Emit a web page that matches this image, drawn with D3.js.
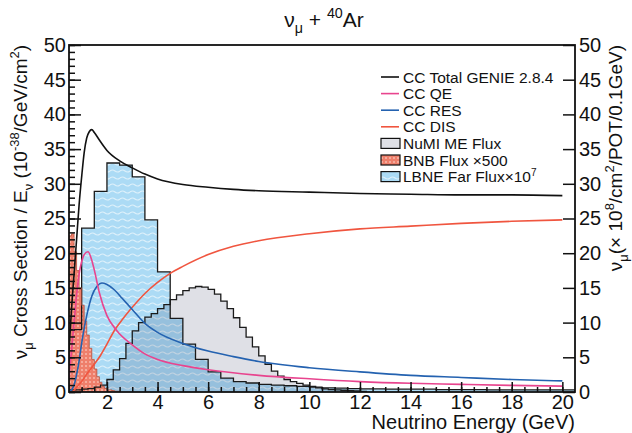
<!DOCTYPE html>
<meta charset="utf-8">
<html>
<head>
<script src="https://d3js.org/d3.v7.min.js"></script>
<style>
  body { margin: 0; background: #fff; }
  text { font-family: "Liberation Sans", Arial, sans-serif; fill: #111; }
</style>
</head>
<body>
<div id="chart"></div>
<script>
// cross sections / E (10^-38 cm^2/GeV)
var totE = [0.5, 0.6, 0.7, 0.8, 0.9, 1.0, 1.1, 1.2, 1.3, 1.4, 1.5, 1.7, 2.0, 2.5, 3.0, 3.5, 4.0, 5.0, 6.0, 7.0, 8.0, 10, 12, 14, 16, 18, 20];
var totV = [6, 12, 17, 22, 27, 31, 34.5, 36.6, 37.5, 37.8, 37.4, 36.3, 34.8, 33.3, 32.3, 31.4, 30.7, 29.9, 29.5, 29.2, 29.0, 28.8, 28.6, 28.5, 28.4, 28.4, 28.3];

var qeE = [0.5, 0.6, 0.7, 0.8, 0.9, 1.0, 1.1, 1.25, 1.4, 1.5, 1.7, 2.0, 2.4, 3.0, 3.5, 4.0, 5.0, 6.0, 8.0, 10, 12, 14, 16, 18, 20];
var qeV = [2, 6, 10, 14, 17, 18.8, 19.8, 20.2, 19.0, 17.6, 14.3, 11.0, 8.8, 6.8, 5.5, 4.7, 3.8, 3.2, 2.4, 1.9, 1.5, 1.25, 1.1, 0.95, 0.85];

var resE = [0.5, 0.6, 0.7, 0.8, 0.9, 1.0, 1.1, 1.2, 1.4, 1.6, 1.8, 2.0, 2.3, 2.6, 3.0, 3.5, 4.0, 5.0, 6.0, 7.0, 8.0, 10, 12, 14, 16, 18, 20];
var resV = [0, 0.3, 1, 2.5, 4.5, 7, 9.2, 11, 13.8, 15.2, 15.7, 15.5, 14.7, 13.5, 11.9, 9.9, 8.6, 7.0, 5.9, 5.1, 4.4, 3.5, 2.9, 2.4, 2.1, 1.8, 1.6];

var disE = [0.65, 0.8, 1.0, 1.2, 1.5, 1.75, 2.0, 2.3, 2.6, 3.0, 3.5, 4.0, 4.5, 5.0, 6.0, 7.0, 8.0, 10, 12, 14, 16, 18, 20];
var disV = [0, 0.7, 1.5, 2.6, 4.0, 5.3, 6.9, 8.9, 10.4, 12.2, 14.2, 15.8, 17.1, 18.1, 19.8, 21.0, 21.8, 22.8, 23.5, 23.9, 24.3, 24.6, 24.8];

// fluxes (right axis), histogram bins
var numiStart = 0.5, numiWidth = 0.25;
var numiV = [0.3, 0.3, 0.4, 0.5, 0.7, 1.0, 1.8, 3.2, 4.8, 7.0, 8.8, 10.0, 10.8, 11.3, 12.0, 12.6, 13.3, 14.0, 14.6, 15.0, 15.2, 15.1, 14.8, 14.1, 13.1, 12.0, 10.7, 9.3, 7.9, 6.5, 5.2, 4.0, 3.0, 2.3, 1.8, 1.5, 1.25, 1.0, 0.8, 0.6, 0.45, 0.35, 0.3, 0.25, 0.2, 0.15, 0.1];

var bnbStart = 0.5, bnbWidth = 0.1;
var bnbV = [22.5, 22.8, 20.2, 17.5, 15.0, 12.5, 10.2, 8.2, 6.3, 4.7, 3.3, 2.2, 1.4, 0.8, 0.5, 0.3, 0.3, 0.2, 0.1, 0.1];

var lbneStart = 0.5, lbneWidth = 0.5;
var lbneV = [9.0, 23.6, 28.9, 33.0, 32.7, 31.0, 24.8, 17.3, 10.6, 6.9, 4.7, 2.9, 2.0, 1.5, 1.3, 1.1, 1.0, 0.9, 0.8, 0.7, 0.6, 0.55, 0.5, 0.45, 0.45, 0.4, 0.4, 0.4, 0.4, 0.35, 0.35, 0.35, 0.35, 0.3, 0.3, 0.3, 0.3, 0.3, 0.3, 0.3];

var yTicks = [0, 5, 10, 15, 20, 25, 30, 35, 40, 45, 50];
var xTicks = [2, 4, 6, 8, 10, 12, 14, 16, 18, 20];

var legendLines = [
  { label: "CC Total GENIE 2.8.4", color: "#111111" },
  { label: "CC QE", color: "#e8448e" },
  { label: "CC RES", color: "#2462b0" },
  { label: "CC DIS", color: "#f0553f" }
];
var legendBoxes = [
  { label: "NuMI ME Flux", fill: "#dfe0e6" },
  { label: "BNB Flux \u00d7500", fill: "url(#bnbPat)" },
  { label: "LBNE Far Flux\u00d710", sup: "7", fill: "url(#lbnePat)" }
];

var width = 632, height = 433;
var margin = { top: 45, right: 57, bottom: 41, left: 69 };

var svg = d3.select("#chart").append("svg")
  .attr("width", width)
  .attr("height", height);

var defs = svg.append("defs");
var pb = defs.append("pattern").attr("id", "bnbPat").attr("patternUnits", "userSpaceOnUse")
  .attr("width", 4).attr("height", 4);
pb.append("rect").attr("width", 4).attr("height", 4).attr("fill", "#ee7f6b");
pb.append("rect").attr("x", 1).attr("y", 1).attr("width", 2).attr("height", 2).attr("fill", "#f5ab9c");

var pl = defs.append("pattern").attr("id", "lbnePat").attr("patternUnits", "userSpaceOnUse")
  .attr("width", 10).attr("height", 7);
pl.append("rect").attr("width", 10).attr("height", 7).attr("fill", "#acdbf5");
pl.append("path").attr("d", "M0,3 Q2.5,1 5,3 T10,3").attr("fill", "none")
  .attr("stroke", "#dff1fb").attr("stroke-width", 1.2);

defs.append("clipPath").attr("id", "clip").append("rect")
  .attr("x", margin.left).attr("y", margin.top)
  .attr("width", width - margin.left - margin.right)
  .attr("height", height - margin.top - margin.bottom);

var x = d3.scaleLinear().domain([0.5, 20.5]).range([margin.left, width - margin.right]);
var y = d3.scaleLinear().domain([0, 50]).range([height - margin.bottom, margin.top]);

function histPoints(start, w, vals) {
  var pts = [[start, 0]];
  vals.forEach(function (v, i) {
    pts.push([start + i * w, v]);
    pts.push([start + (i + 1) * w, v]);
  });
  pts.push([start + vals.length * w, 0]);
  return pts;
}
var straight = d3.line().x(function (d) { return x(d[0]); }).y(function (d) { return y(d[1]); });

var plot = svg.append("g").attr("clip-path", "url(#clip)");

var numiPts = histPoints(numiStart, numiWidth, numiV);
var lbnePts = histPoints(lbneStart, lbneWidth, lbneV);
var bnbPts = histPoints(bnbStart, bnbWidth, bnbV);

plot.append("path").attr("d", straight(numiPts) + "Z").attr("fill", "#dfe0e6");
plot.append("path").attr("d", straight(lbnePts) + "Z").attr("fill", "url(#lbnePat)")
  .style("mix-blend-mode", "multiply");
plot.append("path").attr("d", straight(bnbPts) + "Z").attr("fill", "url(#bnbPat)");

[numiPts, lbnePts].forEach(function (p) {
  plot.append("path").attr("d", straight(p)).attr("fill", "none")
    .attr("stroke", "#1a1a1a").attr("stroke-width", 1.3);
});
plot.append("path").attr("d", straight(bnbPts)).attr("fill", "none")
  .attr("stroke", "#b8503c").attr("stroke-width", 0.8);

var smooth = d3.line().curve(d3.curveMonotoneX)
  .x(function (d) { return x(d[0]); }).y(function (d) { return y(d[1]); });

[[disE, disV, legendLines[3].color], [resE, resV, legendLines[2].color],
 [qeE, qeV, legendLines[1].color], [totE, totV, legendLines[0].color]].forEach(function (c) {
  plot.append("path").attr("d", smooth(d3.zip(c[0], c[1])))
    .attr("fill", "none").attr("stroke", c[2]).attr("stroke-width", 1.6);
});

// axes
var x0 = margin.left, x1 = width - margin.right, yb = height - margin.bottom, yt = margin.top;

var left = svg.append("g").attr("transform", "translate(" + x0 + ",0)");
left.call(d3.axisLeft(y).tickValues(d3.range(0, 51, 1)).tickSize(-6).tickFormat(""))
  .call(function (g) { g.select(".domain").remove(); });
left.append("g").call(d3.axisLeft(y).tickValues(yTicks).tickSize(-12).tickPadding(3))
  .call(function (g) { g.select(".domain").remove(); });

var right = svg.append("g").attr("transform", "translate(" + x1 + ",0)");
right.call(d3.axisRight(y).tickValues(yTicks).tickSize(-12).tickPadding(4))
  .call(function (g) { g.select(".domain").remove(); });

var bottom = svg.append("g").attr("transform", "translate(0," + yb + ")");
bottom.call(d3.axisBottom(x).tickValues(d3.range(1, 20.01, 0.5)).tickSize(-5).tickFormat(""))
  .call(function (g) { g.select(".domain").remove(); });
bottom.append("g").call(d3.axisBottom(x).tickValues(xTicks).tickSize(-10).tickPadding(3))
  .call(function (g) { g.select(".domain").remove(); });

svg.selectAll(".tick line").attr("stroke", "#111").attr("stroke-width", 1.5);
svg.selectAll(".tick text").attr("font-size", 20).attr("fill", "#111");

svg.append("rect").attr("x", x0).attr("y", yt).attr("width", x1 - x0).attr("height", yb - yt)
  .attr("fill", "none").attr("stroke", "#111").attr("stroke-width", 1.8);

// rich text helper: parts are [text, "sub"|"sup"|undefined]
function rich(t, parts, size) {
  var shift = 0;
  parts.forEach(function (p) {
    var target = p[1] === "sub" ? size * 0.3 : p[1] === "sup" ? -size * 0.42 : 0;
    var s = t.append("tspan").attr("dy", target - shift).text(p[0]);
    if (p[1]) s.attr("font-size", size * 0.68);
    shift = target;
  });
}

var title = svg.append("text").attr("x", 324).attr("y", 27).attr("text-anchor", "middle").attr("font-size", 21);
rich(title, [["\u03bd"], ["\u03bc", "sub"], [" + "], ["40", "sup"], ["Ar"]], 21);

var ylab = svg.append("text").attr("transform", "translate(27," + yt + ") rotate(-90)")
  .attr("text-anchor", "end").attr("font-size", 19);
rich(ylab, [["\u03bd"], ["\u03bc", "sub"], [" Cross Section / E"], ["\u03bd", "sub"], [" (10"], ["-38", "sup"], ["/GeV/cm"], ["2", "sup"], [")"]], 19);

var ylab2 = svg.append("text").attr("transform", "translate(622," + yt + ") rotate(-90)")
  .attr("text-anchor", "end").attr("font-size", 19);
rich(ylab2, [["\u03bd"], ["\u03bc", "sub"], ["(\u00d7 10"], ["8", "sup"], ["/cm"], ["2", "sup"], ["/POT/0.1GeV)"]], 19);

svg.append("text").attr("x", x1).attr("y", 429).attr("text-anchor", "end").attr("font-size", 20)
  .text("Neutrino Energy (GeV)");

// legend
var lg = svg.append("g");
legendLines.forEach(function (d, i) {
  var yy = 77 + i * 16.6;
  lg.append("line").attr("x1", 381).attr("x2", 399).attr("y1", yy).attr("y2", yy)
    .attr("stroke", d.color).attr("stroke-width", 1.6);
  lg.append("text").attr("x", 403).attr("y", yy + 5.5).attr("font-size", 15.5).text(d.label);
});
legendBoxes.forEach(function (d, i) {
  var yy = 77 + (i + 4) * 16.6;
  lg.append("rect").attr("x", 381).attr("y", yy - 5).attr("width", 19).attr("height", 10)
    .attr("fill", d.fill).attr("stroke", "#111").attr("stroke-width", 1.2);
  var t = lg.append("text").attr("x", 403).attr("y", yy + 5.5).attr("font-size", 15.5).text(d.label);
  if (d.sup) t.append("tspan").attr("font-size", 10).attr("dy", -6).text(d.sup);
});
</script>
</body>
</html>
